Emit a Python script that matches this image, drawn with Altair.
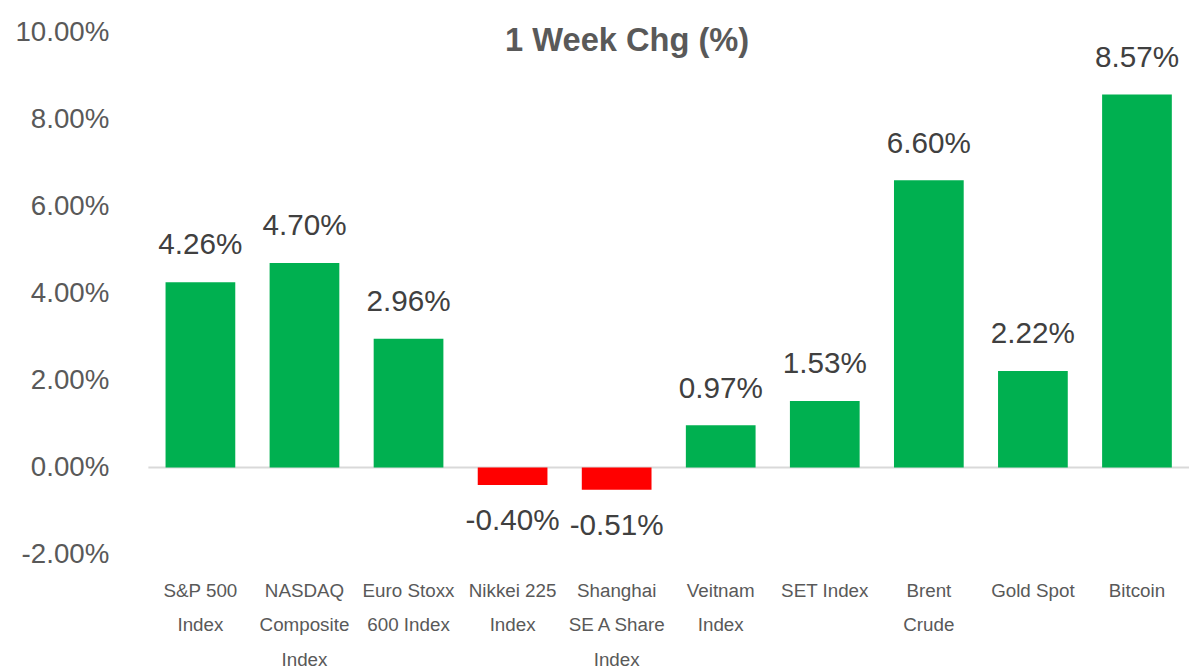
import altair as alt
import pandas as pd

categories = ["S&P 500\nIndex", "NASDAQ\nComposite\nIndex", "Euro Stoxx\n600 Index",
              "Nikkei 225\nIndex", "Shanghai\nSE A Share\nIndex", "Veitnam\nIndex",
              "SET Index", "Brent\nCrude", "Gold Spot", "Bitcoin"]
values = [4.26, 4.70, 2.96, -0.40, -0.51, 0.97, 1.53, 6.60, 2.22, 8.57]
y_ticks = [-2, 0, 2, 4, 6, 8, 10]
title_text = "1 Week Chg (%)"

df = pd.DataFrame({"cat": categories, "val": values})
df["label"] = [f"{v:.2f}%" for v in values]
df["color"] = ["#00B050" if v >= 0 else "#FF0000" for v in values]

W, H = 1052, 528
FONT = "Liberation Sans"

x = alt.X("cat:N", sort=categories, title=None,
          scale=alt.Scale(paddingInner=0.33, paddingOuter=0.165),
          axis=alt.Axis(orient="bottom", domain=False, ticks=False, labelAngle=0,
                        labelExpr="split(datum.label, '\\n')", labelFont=FONT,
                        labelFontSize=19, labelColor="#595959", labelLineHeight=35,
                        labelPadding=27, labelBaseline="top", labelLimit=200))
y = alt.Y("val:Q", title=None,
          scale=alt.Scale(domain=[-2, 10], nice=False, zero=False),
          axis=alt.Axis(values=y_ticks, grid=False, domain=False, ticks=False,
                        labelExpr="(datum.value < 0 ? '-' : '') + format(abs(datum.value), '.2f') + '%'",
                        labelFont=FONT, labelFontSize=28, labelColor="#595959",
                        labelPadding=40))

base = alt.Chart(df)

bars = base.mark_bar().encode(x=x, y=y, y2=alt.datum(0),
                              color=alt.Color("color:N", scale=None))

zero = alt.Chart(pd.DataFrame({"z": [0]})).mark_rule(color="#D9D9D9", strokeWidth=2).encode(
    y=alt.Y("z:Q", scale=alt.Scale(domain=[-2, 10], nice=False, zero=False)))

pos_text = base.transform_filter("datum.val >= 0").mark_text(
    font=FONT, fontSize=30, color="#404040", baseline="middle", dy=-37
).encode(x=alt.X("cat:N", sort=categories), y="val:Q", text="label:N")

neg_text = base.transform_filter("datum.val < 0").mark_text(
    font=FONT, fontSize=30, color="#404040", baseline="middle", dy=37
).encode(x=alt.X("cat:N", sort=categories), y="val:Q", text="label:N")

title = alt.Chart(pd.DataFrame({"t": [title_text]})).mark_text(
    font=FONT, fontSize=33, fontWeight="bold", color="#595959", baseline="middle"
).encode(x=alt.value(484), y=alt.value(9), text="t:N")

chart = alt.layer(zero, bars, pos_text, neg_text, title).properties(
    width=W, height=H,
    autosize=alt.AutoSizeParams(type="none"),
    padding={"left": 150, "top": 29, "right": 0, "bottom": 111},
).configure(background="white").configure_view(stroke=None, strokeWidth=0)

chart.save("out.html", embed_options={"renderer": "svg", "actions": False})
